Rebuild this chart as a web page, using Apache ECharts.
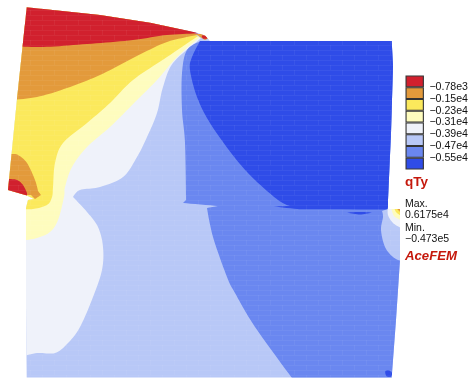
<!DOCTYPE html>
<html><head><meta charset="utf-8">
<style>html,body{margin:0;padding:0;background:#fff}#c{width:471px;height:387px}</style>
<script src="https://cdn.jsdelivr.net/npm/echarts@6/dist/echarts.min.js"></script>
</head><body><div id="c"></div>
<script>
// contour band colours, top of the scale first
const bandColors = ['#d1202e','#e39a3b','#fbe95c','#fefcbe','#eff2fa','#b8c8f7','#6a87f0','#2f4ce8'];
const tickLabels = ['\u22120.78e3','\u22120.15e4','\u22120.23e4','\u22120.31e4','\u22120.39e4','\u22120.47e4','\u22120.55e4'];
const summaryLines = ['Max.','0.6175e4','Min.','\u22120.473e5'];

// mesh-plane outlines; a third entry of 1 marks a sharp corner
const body = [[26.7,7.3],[100,15],[150,22.7],[197,32.7],[205,35.5],[210,41],[391.7,41],[393,66],[391,133],[388,200],[388,209],[400,209],[400,260],[396,320],[391.7,377.5],[26.7,377.5],[26,306],[26,208],[28,200],[34,199],[27,195.5],[8,190],[17,99]];
const nearWhite = [[201,38,1],[197,41.7],[173,63],[163,87],[157,113],[147,137],[137,157],[123,177],[100,187],[80,190],[73,197,1],[87,212],[98,227],[103,247],[102,270],[93,297],[80,327],[68,343],[55,353],[37,353],[20,357,1],[0,300,1],[0,0,1],[100,0,1]];
const paleYellow = [[200,37,1],[177,57],[157,80],[135,102],[110,127],[87,147],[72,167],[65,187],[64,197],[58,220],[50,232],[37,238],[20,241,1],[0,220,1],[0,0,1],[100,0,1]];
const yellow = [[198,36,1],[167,57],[133,80],[110,103],[87,123],[63,143],[55,163],[53,187],[52,197],[47,205],[33,209],[20,209,1],[0,200,1],[0,0,1],[100,0,1]];
const orangeTop = [[198,35,1],[167,42],[133,58],[100,75],[67,88],[37,97],[10,100,1],[0,50,1],[50,0,1],[150,10,1]];
const redTop = [[198,33.5,1],[167,35],[133,40],[87,44],[43,47],[15,46,1],[10,0,1],[150,5,1]];
const orangeSmall = [[5,153,1],[12,154],[18,155],[27,163],[35,180],[38,191,1],[41,195,1],[35,199,1],[31,195,1],[5,195,1]];
const redSmall = [[5,179,1],[9,179],[17,180],[23,185],[27,193,1],[27,198,1],[5,195,1]];
const apexOrange = [[196,34,1],[204,34,1],[209,38,1],[205,40,1],[200,37,1]];
const apexRed = [[202,35.5],[206,36],[207,38.5],[203,38.5]];
const midBlue = [[201,41,1],[187,50],[182,73],[182,110],[185,143],[186,200,1],[183,203,1],[218,206,1],[207,208,1],[213,237],[227,277],[235,293],[255,327],[292,378,1],[420,378,1],[420,41,1]];
const darkBlue = [[200,41,1],[192,57],[190,70],[197,97],[210,123],[235,158],[255,180],[278,200],[290,206,1],[273,206.5,1],[300,209.3,1],[420,209.5,1],[420,41,1]];
const darkSliver = [[347,212.5,1],[360,212],[372,212.5,1],[360,214.5]];
const darkCorner = [[385.5,371],[389,370.5],[392,373],[391,376.5],[387,376.5],[385.5,374]];
const rightLight = [[382,211,1],[383,217],[381,230],[385,247],[393,257],[401,261,1],[410,230,1],[401,207,1],[388,209,1]];
const rightWhite = [[388,207,1],[388,215],[393,223],[401,228,1],[410,215,1],[401,207,1]];
const rightPale = [[391,207,1],[394,216],[401,220,1],[410,212,1],[401,207,1]];
const rightYellow = [[394,207,1],[396,212],[401,216,1],[405,207,1]];
const rightOrange = [[396.5,207,1],[398,210],[401,212.5,1],[403,207,1]];

// outline, band index (0 is the top of the scale), curved or straight
const regions = [
  [body,5,0],[nearWhite,4,1],[paleYellow,3,1],[yellow,2,1],[orangeTop,1,1],[redTop,0,1],
  [orangeSmall,1,1],[redSmall,0,1],
  [midBlue,6,1],[darkBlue,7,1],[darkSliver,7,1],[darkCorner,7,1],
  [apexOrange,1,0],[apexRed,0,1],
  [rightLight,5,1],[rightWhite,4,1],[rightPale,3,1],[rightYellow,2,1],[rightOrange,1,1]
];
const barValues = [1,1,1,1,1,1,1,1];

// faint brick texture standing in for the mesh lines
const tile = document.createElement('canvas'); tile.width=24; tile.height=10;
(function(){const g=tile.getContext('2d'); g.strokeStyle='rgba(255,255,255,0.05)'; g.lineWidth=1; g.beginPath();
  g.moveTo(0,.5);g.lineTo(24,.5);g.moveTo(0,5.5);g.lineTo(24,5.5);
  g.moveTo(6.5,0);g.lineTo(6.5,5);g.moveTo(18.5,5);g.lineTo(18.5,10); g.stroke();})();

// closed Catmull-Rom outline for the renderer, flat tangents at sharp corners
function curve(pts,api,on){
  const P=pts.map(p=>{const c=api.coord(p);return [c[0],c[1],p[2]];});
  if(!on) return P.map(p=>[p[0],p[1]]);
  const n=P.length,out=[];
  const tan=i=>{const a=P[(i+n-1)%n],b=P[(i+1)%n];return P[i][2]?[0,0]:[(b[0]-a[0])/2,(b[1]-a[1])/2];};
  for(let i=0;i<n;i++){
    const p0=P[i],p1=P[(i+1)%n],m0=tan(i),m1=tan((i+1)%n);
    for(let k=0;k<10;k++){const t=k/10,t2=t*t,t3=t2*t;
      const h00=2*t3-3*t2+1,h10=t3-2*t2+t,h01=-2*t3+3*t2,h11=t3-t2;
      out.push([h00*p0[0]+h10*m0[0]+h01*p1[0]+h11*m1[0],h00*p0[1]+h10*m0[1]+h01*p1[1]+h11*m1[1]]);}
  }
  return out;
}

const chart = echarts.init(document.getElementById('c'),null,{renderer:'canvas'});
const font = '"Liberation Sans", Arial, sans-serif';
chart.setOption({
  animation:false,
  backgroundColor:'#fff',
  grid:[
    {left:0,top:0,width:471,height:387,show:false},
    {left:405.5,top:75.5,width:23.5,height:94,show:false}
  ],
  xAxis:[
    {gridIndex:0,type:'value',min:0,max:471,show:false},
    {gridIndex:1,type:'category',data:['qTy'],show:false}
  ],
  yAxis:[
    {gridIndex:0,type:'value',min:0,max:387,inverse:true,show:false},
    {gridIndex:1,type:'value',min:0,max:8,interval:1,position:'right',
     axisLine:{show:false},axisTick:{show:false},splitLine:{show:false},
     axisLabel:{show:true,margin:5.5,fontSize:10.6,fontFamily:font,color:'#111',
       formatter:v=>(v>=1&&v<=7)?tickLabels[7-v]:''}}
  ],
  series:[
    {type:'custom',xAxisIndex:0,yAxisIndex:0,silent:true,clip:false,
     data:regions.map((r,i)=>[i]).concat([[regions.length]]),
     renderItem(params,api){
       const idx=api.value(0);
       const clip={type:'polygon',shape:{points:curve(body,api,false)}};
       if(idx===regions.length){
         return {type:'polygon',z2:idx,shape:{points:curve(body,api,false)},
           style:{fill:{image:tile,repeat:'repeat'},stroke:null}};
       }
       const r = regions[idx];
       const el = {type:'polygon',z2:idx,
         shape:{points:curve(r[0],api,r[2])},
         style:{fill:bandColors[r[1]],stroke:null}};
       if(r[0]!==body){ el.clipPath=clip; }
       return el;
     }},
    ...barValues.map((v,i)=>({type:'bar',xAxisIndex:1,yAxisIndex:1,stack:'scale',silent:true,
      barWidth:'100%',data:[v],
      itemStyle:{color:bandColors[7-i],borderColor:'#333',borderWidth:1.1}}))
  ],
  graphic:[
    {type:'text',left:405,top:175,style:{text:'qTy',font:'bold 13.5px '+font,fill:'#c5180c'}},
    ...summaryLines.map((t,i)=>({type:'text',left:405,top:[199,210,222.5,233.5][i],style:{text:t,font:'10.5px '+font,fill:'#111'}})),
    {type:'text',left:405,top:250,style:{text:'AceFEM',font:'italic bold 13.2px '+font,fill:'#c5180c'}}
  ]
});
</script></body></html>
